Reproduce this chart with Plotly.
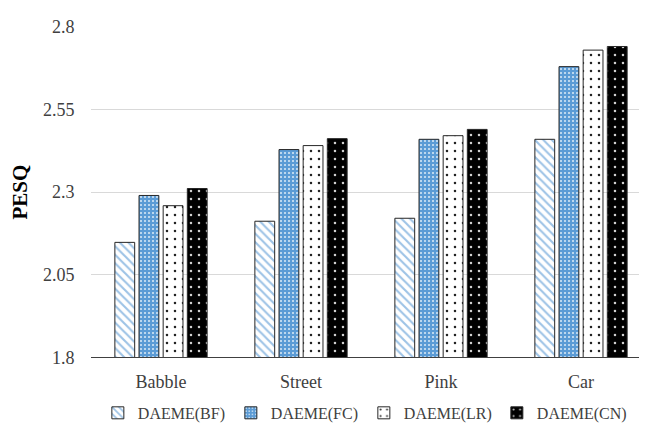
import plotly.graph_objects as go

categories = ["Babble", "Street", "Pink", "Car"]
series_names = ["DAEME(BF)", "DAEME(FC)", "DAEME(LR)", "DAEME(CN)"]
bf = [2.148, 2.212, 2.221, 2.460]
fc = [2.290, 2.429, 2.460, 2.680]
lr = [2.259, 2.441, 2.471, 2.730]
cn = [2.311, 2.462, 2.490, 2.741]
tick_vals = [1.8, 2.05, 2.3, 2.55, 2.8]
tick_text = ["1.8", "2.05", "2.3", "2.55", "2.8"]

styles = [
    dict(bg="white", fg="#9DC3E6", shape="\\", size=6, solidity=0.35),
    dict(bg="#5B9BD5", fg="#DDEBF7", shape=".", size=4, solidity=0.2),
    dict(bg="white", fg="#222222", shape=".", size=8, solidity=0.08),
    dict(bg="black", fg="#D0D0D0", shape=".", size=8, solidity=0.08),
]

fig = go.Figure()
for name, vals, st in zip(series_names, [bf, fc, lr, cn], styles):
    fig.add_trace(go.Bar(
        x=categories, y=vals, name=name,
        marker=dict(
            color=st["bg"],
            line=dict(color="#262626", width=1),
            pattern=dict(shape=st["shape"], fgcolor=st["fg"], bgcolor=st["bg"],
                         size=st["size"], solidity=st["solidity"], fillmode="replace"),
        ),
    ))

font_family = "Liberation Serif"
fig.update_layout(
    width=647, height=424,
    margin=dict(l=83, r=4, t=19, b=65),
    paper_bgcolor="white", plot_bgcolor="white",
    barmode="group", bargap=0.31, bargroupgap=0.18,
    font=dict(family=font_family, size=18, color="#404040"),
    showlegend=True,
    legend=dict(orientation="h", xref="container", x=0.55, xanchor="center",
                yref="container", y=0.045, yanchor="middle",
                font=dict(family=font_family, size=16, color="#404040"),
                itemwidth=30, tracegroupgap=0, entrywidth=88, entrywidthmode="pixels"),
    yaxis=dict(range=[1.8, 2.8], tickvals=tick_vals, ticktext=tick_text,
               showgrid=True, gridcolor="#D9D9D9", gridwidth=1,
               zeroline=False, showline=False,
               ticks="outside", ticklen=12, tickcolor="rgba(0,0,0,0)",
               tickfont=dict(family=font_family, size=18, color="#404040"),
               title=dict(text="<b>PESQ</b>", font=dict(family=font_family, size=21, color="black"), standoff=10)),
    xaxis=dict(showline=True, linecolor="#404040", linewidth=1,
               tickfont=dict(family=font_family, size=18, color="#404040"),
               ticks="", ticklabelstandoff=8),
)

fig.write_html("out.html")
